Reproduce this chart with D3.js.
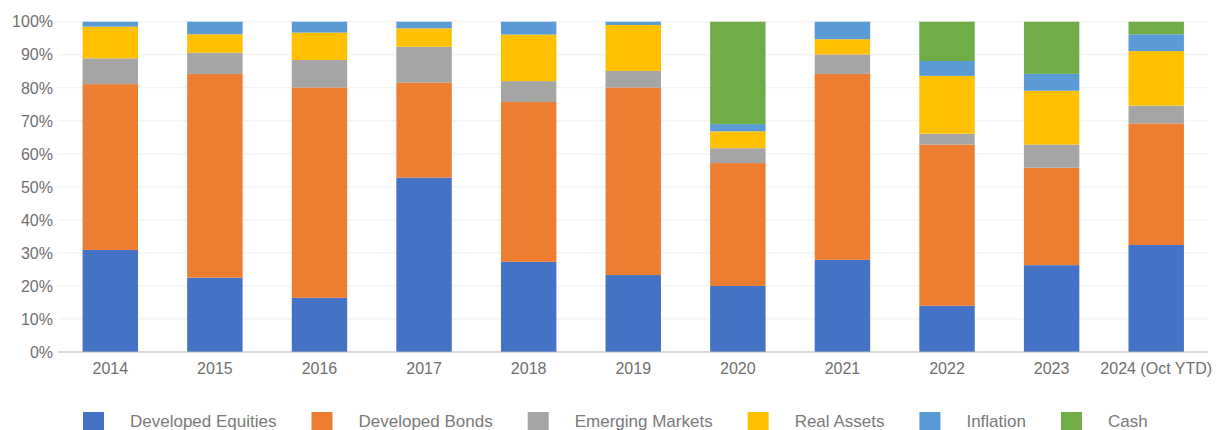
<!DOCTYPE html>
<html>
<head>
<meta charset="utf-8">
<script src="https://cdn.jsdelivr.net/npm/d3@7"></script>
<style>
  body { margin: 0; background: #fff; }
  svg { display: block; font-family: "Liberation Sans", Arial, sans-serif; }
</style>
</head>
<body>
<div id="chart"></div>
<script>
// categories and series (percent of total)
const years = ["2014", "2015", "2016", "2017", "2018", "2019", "2020", "2021", "2022", "2023", "2024 (Oct YTD)"];
const seriesNames = ["Developed Equities", "Developed Bonds", "Emerging Markets", "Real Assets", "Inflation", "Cash"];
const developedEquities = [30.9, 22.5, 16.4, 52.8, 27.3, 23.3, 20.0, 27.9, 14.0, 26.3, 32.4];
const developedBonds    = [50.2, 61.7, 63.7, 28.8, 48.4, 56.8, 37.2, 56.3, 48.8, 29.5, 36.8];
const emergingMarkets   = [7.8, 6.4, 8.3, 10.8, 6.3, 5.0, 4.5, 5.9, 3.3, 7.0, 5.4];
const realAssets        = [9.6, 5.6, 8.3, 5.6, 14.1, 13.9, 5.1, 4.6, 17.5, 16.3, 16.5];
const inflation         = [1.5, 3.8, 3.3, 2.0, 3.9, 1.0, 2.2, 5.3, 4.5, 5.1, 5.1];
const cash              = [0, 0, 0, 0, 0, 0, 31.0, 0, 11.9, 15.8, 3.8];
const yTicks = [0, 10, 20, 30, 40, 50, 60, 70, 80, 90, 100];

const colors = ["#4472C4", "#ED7D31", "#A5A5A5", "#FFC000", "#5B9BD5", "#70AD47"];

const width = 1217, height = 430;
const seriesValues = [developedEquities, developedBonds, emergingMarkets, realAssets, inflation, cash];

// table for d3.stack
const table = years.map((y, i) => {
    const row = { year: y };
    seriesNames.forEach((s, k) => row[s] = seriesValues[k][i]);
    return row;
});
const stacked = d3.stack().keys(seriesNames)(table);

const svg = d3.select("#chart").append("svg")
    .attr("width", width)
    .attr("height", height);

const x = d3.scaleBand()
    .domain(years)
    .range([58, 1208.5])
    .paddingInner(0.47)
    .paddingOuter(0.235);

const y = d3.scaleLinear()
    .domain([0, 100])
    .range([352, 21.7]);

// gridlines
svg.append("g")
    .selectAll("line")
    .data(yTicks.filter(d => d > 0))
    .join("line")
    .attr("x1", 58)
    .attr("x2", 1208)
    .attr("y1", d => y(d))
    .attr("y2", d => y(d))
    .attr("stroke", "#efefef")
    .attr("stroke-width", 1);

// y labels
svg.append("g")
    .selectAll("text")
    .data(yTicks)
    .join("text")
    .attr("x", 53)
    .attr("y", d => y(d))
    .attr("dy", "0.36em")
    .attr("text-anchor", "end")
    .attr("fill", "#707070")
    .style("font-size", "16px")
    .text(d => d + "%");

// bars
svg.append("g")
    .selectAll("g")
    .data(stacked)
    .join("g")
    .attr("fill", (d, i) => colors[i])
    .selectAll("rect")
    .data(d => d)
    .join("rect")
    .attr("x", d => x(d.data.year))
    .attr("width", x.bandwidth())
    .attr("y", d => y(d[1]))
    .attr("height", d => y(d[0]) - y(d[1]));

// baseline
svg.append("line")
    .attr("x1", 58)
    .attr("x2", 1208)
    .attr("y1", y(0))
    .attr("y2", y(0))
    .attr("stroke", "#b8b8b8")
    .attr("stroke-width", 1.2);

// x labels
svg.append("g")
    .selectAll("text")
    .data(years)
    .join("text")
    .attr("x", d => x(d) + x.bandwidth() / 2)
    .attr("y", 374)
    .attr("text-anchor", "middle")
    .attr("fill", "#707070")
    .style("font-size", "16px")
    .text(d => d);

// legend
const legend = svg.append("g");
let lx = 83;
seriesNames.forEach((name, i) => {
    legend.append("rect")
        .attr("x", lx)
        .attr("y", 412)
        .attr("width", 21)
        .attr("height", 21)
        .attr("fill", colors[i]);
    const t = legend.append("text")
        .attr("x", lx + 47)
        .attr("y", 427)
        .attr("fill", "#7a7a7a")
        .style("font-size", "17px")
        .text(name);
    lx += 47 + t.node().getComputedTextLength() + 35;
});
</script>
</body>
</html>
